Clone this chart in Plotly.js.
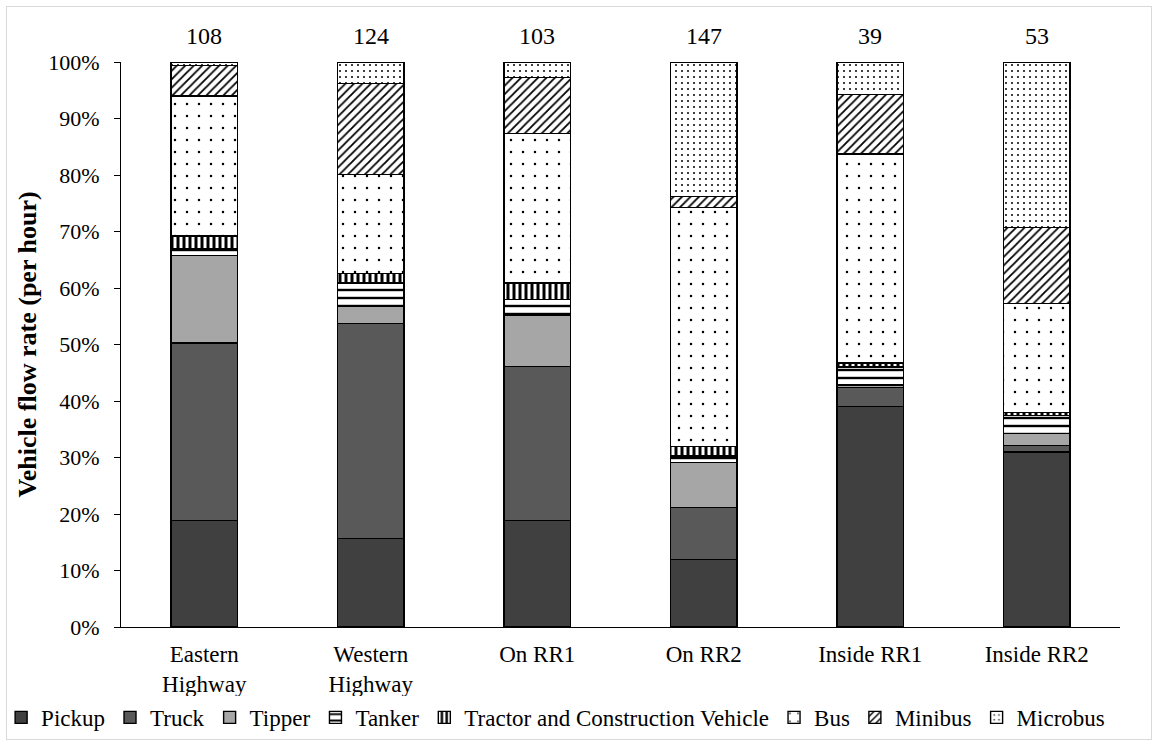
<!DOCTYPE html>
<html>
<head>
<meta charset="utf-8">
<script src="https://cdn.plot.ly/plotly-3.0.1.min.js"></script>
<style>
  html, body { margin: 0; padding: 0; background: #fff; }
  #wrap { position: relative; width: 1158px; height: 744px; }
  #chart { width: 1158px; height: 744px; }
  #frame { position: absolute; left: 6px; top: 6px; width: 1144px; height: 732px; border: 1px solid #d9d9d9; pointer-events: none; }
</style>
</head>
<body>
<div id="wrap"><div id="chart"></div><div id="frame"></div></div>
<script>
// Categories and per-hour totals shown above bars
var categories = ['Eastern<br>Highway', 'Western<br>Highway', 'On RR1', 'On RR2', 'Inside RR1', 'Inside RR2'];
var totals = [108, 124, 103, 147, 39, 53];

// Share (%) of each vehicle type
var pickup   = [18.8, 15.7, 18.9, 11.9, 39.0, 31.0];
var truck    = [31.5, 38.0, 27.2,  9.2,  3.4,  1.1];
var tipper   = [15.5,  3.0,  9.1,  8.0,  0.4,  2.2];
var tanker   = [ 1.2,  4.2,  2.8,  1.2,  3.2,  3.1];
var tractor  = [ 2.2,  1.7,  2.9,  1.6,  0.7,  0.6];
var bus      = [24.8, 17.5, 26.4, 42.3, 37.0, 19.3];
var minibus  = [ 5.4, 16.1, 10.0,  2.0, 10.6, 13.4];
var microbus = [ 0.6,  3.8,  2.7, 23.8,  5.7, 29.3];

var seriesNames = ['Pickup', 'Truck', 'Tipper', 'Tanker', 'Tractor and Construction Vehicle', 'Bus', 'Minibus', 'Microbus'];
var seriesValues = [pickup, truck, tipper, tanker, tractor, bus, minibus, microbus];

var styles = [
  {color: '#404040'},
  {color: '#595959'},
  {color: '#a6a6a6'},
  {color: '#ffffff', pattern: {shape: '-', size: 8, solidity: 0.3}},
  {color: '#ffffff', pattern: {shape: '|', size: 6, solidity: 0.5}},
  {color: '#ffffff', pattern: {shape: '.', size: 12, solidity: 0.035}},
  {color: '#ffffff', pattern: {shape: '/', size: 6, solidity: 0.3}},
  {color: '#ffffff', pattern: {shape: '.', size: 6, solidity: 0.09}}
];

var FONT = 'Liberation Serif';

var traces = seriesNames.map(function (name, i) {
  var st = styles[i];
  var marker = {color: st.color, line: {color: '#000000', width: 1.4}};
  if (st.pattern) {
    marker.pattern = {
      shape: st.pattern.shape,
      size: st.pattern.size,
      solidity: st.pattern.solidity,
      fgcolor: '#000000',
      bgcolor: '#ffffff',
      fillmode: 'replace'
    };
  }
  return {
    type: 'bar',
    name: name,
    x: categories,
    y: seriesValues[i],
    marker: marker,
    hoverinfo: 'name+y'
  };
});

var annotations = categories.map(function (c, i) {
  return {
    x: c, y: 1, xref: 'x', yref: 'paper',
    yanchor: 'bottom', yshift: 11,
    text: String(totals[i]), showarrow: false,
    font: {family: FONT, size: 24, color: '#000'}
  };
});

var layout = {
  width: 1158, height: 744,
  margin: {l: 121, r: 38, t: 62, b: 117, autoexpand: false},
  paper_bgcolor: '#ffffff', plot_bgcolor: '#ffffff',
  barmode: 'stack',
  bargap: 0.6,
  font: {family: FONT, size: 22, color: '#000'},
  showlegend: true,
  legend: {
    orientation: 'h', x: -0.12, xanchor: 'left', y: -0.16, yanchor: 'middle',
    traceorder: 'normal',
    font: {family: FONT, size: 23, color: '#000'},
    itemwidth: 30, tracegroupgap: 0
  },
  xaxis: {
    automargin: false,
    showline: true, linecolor: '#000', linewidth: 1,
    ticks: '', showgrid: false, zeroline: false,
    ticklabelstandoff: 6,
    tickfont: {family: FONT, size: 23, color: '#000'}
  },
  yaxis: {
    automargin: false,
    range: [0, 100], dtick: 10, ticksuffix: '%',
    showline: true, linecolor: '#000', linewidth: 1,
    ticks: 'outside', ticklen: 6, tickcolor: '#000',
    ticklabelstandoff: 10,
    showgrid: false, zeroline: false,
    tickfont: {family: FONT, size: 22, color: '#000'},
    title: {text: '<b>Vehicle flow rate (per hour)</b>', standoff: 4,
            font: {family: FONT, size: 26, color: '#000'}}
  },
  annotations: annotations
};

Plotly.newPlot('chart', traces, layout, {displayModeBar: false, staticPlot: true});
</script>
</body>
</html>
